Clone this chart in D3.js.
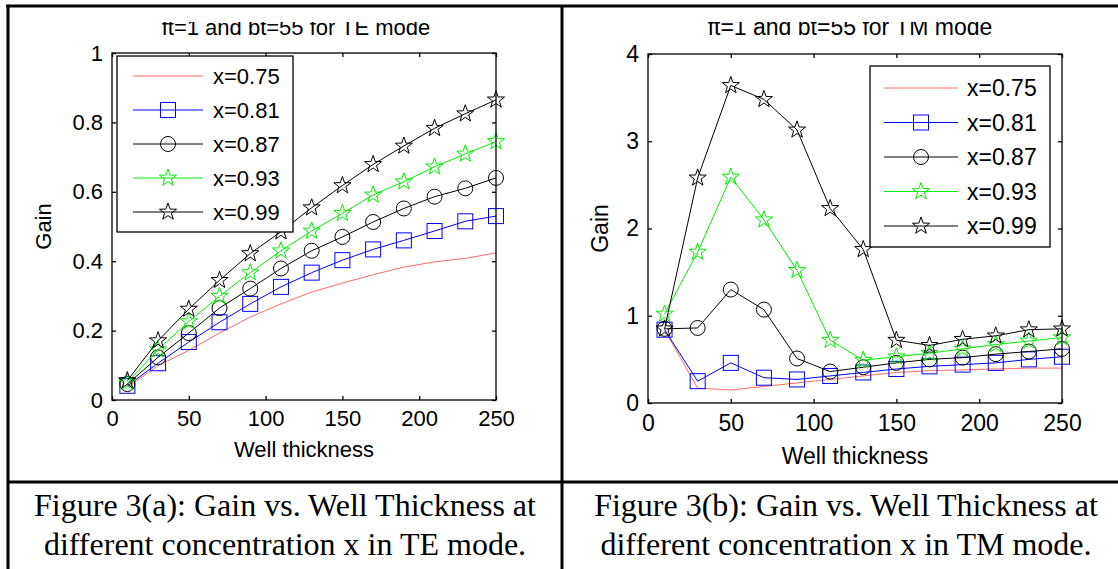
<!DOCTYPE html>
<html>
<head>
<meta charset="utf-8">
<script src="https://cdn.jsdelivr.net/npm/d3@7"></script>
<style>
  html, body { margin: 0; padding: 0; background: #fff; }
  svg { display: block; }
</style>
</head>
<body>
<svg id="chart" width="1118" height="569"></svg>
<script>
// ---------- data ----------
const wellThickness = [10, 30, 50, 70, 90, 110, 130, 150, 170, 190, 210, 230, 250];
const seriesLabels = ["x=0.75", "x=0.81", "x=0.87", "x=0.93", "x=0.99"];

// TE mode (figure a)
const teX075 = [0.037, 0.099, 0.143, 0.193, 0.239, 0.277, 0.311, 0.337, 0.361, 0.383, 0.398, 0.408, 0.424];
const teX081 = [0.041, 0.106, 0.167, 0.224, 0.277, 0.326, 0.367, 0.403, 0.434, 0.460, 0.487, 0.515, 0.530];
const teX087 = [0.046, 0.123, 0.193, 0.265, 0.321, 0.379, 0.430, 0.470, 0.513, 0.552, 0.586, 0.610, 0.640];
const teX093 = [0.051, 0.145, 0.226, 0.299, 0.367, 0.430, 0.487, 0.538, 0.591, 0.629, 0.672, 0.709, 0.745];
const teX099 = [0.056, 0.171, 0.262, 0.345, 0.422, 0.485, 0.554, 0.618, 0.679, 0.732, 0.783, 0.825, 0.865];

// TM mode (figure b)
const tmX075 = [0.84, 0.17, 0.15, 0.19, 0.23, 0.27, 0.31, 0.35, 0.37, 0.38, 0.39, 0.40, 0.40];
const tmX081 = [0.84, 0.25, 0.46, 0.29, 0.27, 0.31, 0.35, 0.39, 0.42, 0.44, 0.46, 0.50, 0.53];
const tmX087 = [0.85, 0.86, 1.30, 1.07, 0.51, 0.36, 0.41, 0.46, 0.50, 0.52, 0.56, 0.59, 0.62];
const tmX093 = [1.02, 1.73, 2.59, 2.10, 1.52, 0.72, 0.49, 0.53, 0.57, 0.62, 0.67, 0.71, 0.75];
const tmX099 = [0.85, 2.58, 3.64, 3.48, 3.13, 2.23, 1.76, 0.72, 0.66, 0.73, 0.77, 0.84, 0.85];

const xTicks = [0, 50, 100, 150, 200, 250];
const teYTicks = [0, 0.2, 0.4, 0.6, 0.8, 1];
const tmYTicks = [0, 1, 2, 3, 4];

const titleTE = "ft=1 and bt=55 for TE mode";
const titleTM = "ft=1 and bt=55 for TM mode";
const xLabel = "Well thickness";
const yLabel = "Gain";
const captionA = ["Figure 3(a): Gain vs. Well Thickness at", "different concentration x in TE mode."];
const captionB = ["Figure 3(b): Gain vs. Well Thickness at", "different concentration x in TM mode."];

// ---------- styles ----------
const styles = [
  { color: "#ff6a6a", marker: "none", width: 1 },
  { color: "#0000ff", marker: "square", width: 1 },
  { color: "#000000", marker: "circle", width: 1 },
  { color: "#00ee00", marker: "star", width: 1 },
  { color: "#000000", marker: "star", width: 1 }
];

const svg = d3.select("#chart");
const SANS = "'Liberation Sans', Arial, sans-serif";
const SERIF = "'Liberation Serif', 'Times New Roman', serif";

function starPath(R) {
  const r = R * 0.4;
  const pts = [];
  for (let i = 0; i < 10; i++) {
    const a = -Math.PI / 2 + i * Math.PI / 5;
    const rad = i % 2 === 0 ? R : r;
    pts.push([rad * Math.cos(a), rad * Math.sin(a)]);
  }
  return "M" + pts.map(p => p[0].toFixed(2) + "," + p[1].toFixed(2)).join("L") + "Z";
}

function drawMarker(g, type, color, cx, cy) {
  if (type === "square") {
    g.append("rect").attr("x", cx - 7.5).attr("y", cy - 7.5).attr("width", 15).attr("height", 15)
      .attr("fill", "none").attr("stroke", color).attr("stroke-width", 1);
  } else if (type === "circle") {
    g.append("circle").attr("cx", cx).attr("cy", cy).attr("r", 7.5)
      .attr("fill", "none").attr("stroke", color).attr("stroke-width", 1);
  } else if (type === "star") {
    g.append("path").attr("d", starPath(9)).attr("transform", `translate(${cx},${cy})`)
      .attr("fill", "none").attr("stroke", color).attr("stroke-width", 1);
  }
}

function drawPlot(cfg) {
  const x = d3.scaleLinear().domain([0, 250]).range([cfg.left, cfg.right]);
  const y = d3.scaleLinear().domain(cfg.yDomain).range([cfg.bottom, cfg.top]);
  const g = svg.append("g");
  const fs = cfg.fontSize;

  // title (clipped at top like the original)
  const clipId = "clip" + cfg.id;
  svg.append("clipPath").attr("id", clipId).append("rect")
    .attr("x", cfg.left - 60).attr("y", cfg.titleClip).attr("width", cfg.right - cfg.left + 120).attr("height", 40);
  g.append("text").attr("clip-path", `url(#${clipId})`)
    .attr("x", cfg.titleX).attr("y", cfg.titleY)
    .attr("text-anchor", "middle").attr("font-family", SANS).attr("font-size", fs)
    .attr("fill", "#000").text(cfg.title);

  // data lines
  const line = d3.line().x((d, i) => x(wellThickness[i])).y(d => y(d));
  cfg.series.forEach((vals, si) => {
    const st = styles[si];
    g.append("path").datum(vals).attr("d", line).attr("fill", "none")
      .attr("stroke", st.color).attr("stroke-width", st.width);
    if (st.marker !== "none") {
      const mg = g.append("g");
      vals.forEach((v, i) => drawMarker(mg, st.marker, st.color, x(wellThickness[i]), y(v)));
    }
  });

  // axes box + inward ticks (MATLAB style)
  const axisG = g.append("g").attr("font-family", SANS).attr("font-size", fs);
  const xAxisB = d3.axisBottom(x).tickValues(xTicks).tickSize(-4).tickPadding(cfg.xTickPad).tickFormat(d3.format("d"));
  const xAxisT = d3.axisTop(x).tickValues(xTicks).tickSize(-4).tickFormat("");
  const yAxisL = d3.axisLeft(y).tickValues(cfg.yTicks).tickSize(-4).tickPadding(cfg.yTickPad).tickFormat(d => d3.format("~g")(d));
  const yAxisR = d3.axisRight(y).tickValues(cfg.yTicks).tickSize(-4).tickFormat("");
  [
    axisG.append("g").attr("transform", `translate(0,${cfg.bottom})`).call(xAxisB),
    axisG.append("g").attr("transform", `translate(0,${cfg.top})`).call(xAxisT),
    axisG.append("g").attr("transform", `translate(${cfg.left},0)`).call(yAxisL),
    axisG.append("g").attr("transform", `translate(${cfg.right},0)`).call(yAxisR)
  ].forEach(a => {
    a.selectAll(".tick line").attr("stroke", "#000").attr("stroke-width", 1.3);
    a.selectAll(".tick text").attr("fill", "#000").attr("font-size", fs);
  });
  axisG.selectAll(".domain").remove();
  axisG.append("rect").attr("x", cfg.left).attr("y", cfg.top)
    .attr("width", cfg.right - cfg.left).attr("height", cfg.bottom - cfg.top)
    .attr("fill", "none").attr("stroke", "#000").attr("stroke-width", 1.3);

  // axis labels
  g.append("text").attr("x", (cfg.left + cfg.right) / 2).attr("y", cfg.xLabelY)
    .attr("text-anchor", "middle").attr("font-family", SANS).attr("font-size", fs).text(xLabel);
  g.append("text").attr("transform", `translate(${cfg.yLabelX},${(cfg.top + cfg.bottom) / 2}) rotate(-90)`)
    .attr("text-anchor", "middle").attr("font-family", SANS).attr("font-size", fs).text(yLabel);

  // legend
  const L = cfg.legend;
  const lg = g.append("g");
  lg.append("rect").attr("x", L.x).attr("y", L.y).attr("width", L.w).attr("height", L.h)
    .attr("fill", "#fff").attr("stroke", "#000").attr("stroke-width", 1.3);
  seriesLabels.forEach((lab, i) => {
    const st = styles[i];
    const yy = L.y + L.first + i * L.step;
    lg.append("line").attr("x1", L.x + L.lineX1).attr("x2", L.x + L.lineX2).attr("y1", yy).attr("y2", yy)
      .attr("stroke", st.color).attr("stroke-width", st.width);
    if (st.marker !== "none") drawMarker(lg, st.marker, st.color, L.x + (L.lineX1 + L.lineX2) / 2, yy);
    lg.append("text").attr("x", L.x + L.textX).attr("y", yy).attr("dy", "0.36em")
      .attr("font-family", SANS).attr("font-size", fs).text(lab);
  });
}

// ---------- table frame ----------
const frame = svg.append("g").attr("stroke", "#000").attr("stroke-width", 3);
frame.append("line").attr("x1", 6).attr("x2", 1118).attr("y1", 6).attr("y2", 6);
frame.append("line").attr("x1", 8).attr("x2", 8).attr("y1", 5).attr("y2", 569);
frame.append("line").attr("x1", 562).attr("x2", 562).attr("y1", 5).attr("y2", 569);
frame.append("line").attr("x1", 7).attr("x2", 1118).attr("y1", 482).attr("y2", 482);

// ---------- plots ----------
drawPlot({
  id: "a", left: 112, right: 496, top: 53, bottom: 400, yDomain: [0, 1], yTicks: teYTicks,
  series: [teX075, teX081, teX087, teX093, teX099], fontSize: 22,
  title: titleTE, titleX: 296, titleY: 35, titleClip: 22,
  xTickPad: 10, yTickPad: 9, xLabelY: 457, yLabelX: 51,
  legend: { x: 117, y: 56, w: 176, h: 176, first: 20, step: 34, lineX1: 16, lineX2: 86, textX: 96 }
});
drawPlot({
  id: "b", left: 648, right: 1062, top: 54, bottom: 403, yDomain: [0, 4], yTicks: tmYTicks,
  series: [tmX075, tmX081, tmX087, tmX093, tmX099], fontSize: 23,
  title: titleTM, titleX: 850, titleY: 35, titleClip: 22,
  xTickPad: 12, yTickPad: 9, xLabelY: 464, yLabelX: 608,
  legend: { x: 870, y: 66, w: 180, h: 181, first: 22, step: 34.5, lineX1: 14, lineX2: 88, textX: 97 }
});

// ---------- captions ----------
[[captionA, 285], [captionB, 846]].forEach(([lines, cx]) => {
  lines.forEach((t, i) => {
    svg.append("text").attr("x", cx).attr("y", 516 + i * 39).attr("text-anchor", "middle")
      .attr("font-family", SERIF).attr("font-size", 32).attr("fill", "#000").text(t);
  });
});
</script>
</body>
</html>
